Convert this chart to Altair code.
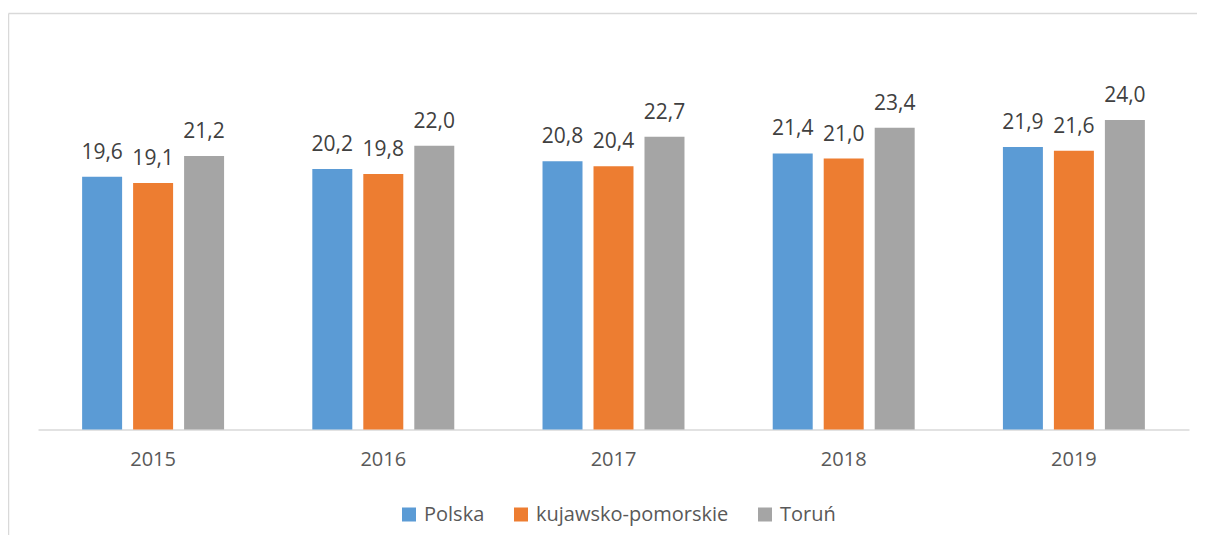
import altair as alt
import pandas as pd

years = ["2015", "2016", "2017", "2018", "2019"]
series = ["Polska", "kujawsko-pomorskie", "Toruń"]
polska = [19.6, 20.2, 20.8, 21.4, 21.9]
kujawsko = [19.1, 19.8, 20.4, 21.0, 21.6]
torun = [21.2, 22.0, 22.7, 23.4, 24.0]
colors = ["#5B9BD5", "#ED7D31", "#A5A5A5"]

rows = []
for name, vals in zip(series, [polska, kujawsko, torun]):
    for yr, v in zip(years, vals):
        rows.append({"rok": yr, "seria": name, "wartosc": v,
                     "etykieta": f"{v:.1f}".replace(".", ",")})
df = pd.DataFrame(rows)

W, H = 1151, 387
FONT = "Open Sans"

x = alt.X("rok:N", sort=years, title=None,
          scale=alt.Scale(paddingInner=0.3833, paddingOuter=0.19167),
          axis=alt.Axis(labelAngle=0, ticks=False, tickSize=0, domainColor="#D9D9D9",
                        domainWidth=1.5, labelColor="#595959", labelFontSize=20,
                        labelFont=FONT, labelPadding=20, grid=False))
xo = alt.XOffset("seria:N", sort=series,
                 scale=alt.Scale(paddingInner=11 / 51, paddingOuter=0))
y = alt.Y("wartosc:Q", scale=alt.Scale(domain=[0, 30], nice=False, zero=True), axis=None)

bars = alt.Chart(df).mark_bar().encode(
    x=x, xOffset=xo, y=y,
    color=alt.Color("seria:N", sort=series,
                    scale=alt.Scale(domain=series, range=colors),
                    legend=alt.Legend(orient="none", legendX=361, legendY=462,
                                      direction="horizontal", columns=3, title=None,
                                      symbolType="square", symbolSize=196,
                                      symbolStrokeWidth=0, labelFontSize=20,
                                      labelFont=FONT, labelColor="#595959",
                                      labelLimit=400,
                                      columnPadding=26, labelOffset=5)),
)

labels = alt.Chart(df).mark_text(dy=-18, baseline="alphabetic", fontSize=21, font=FONT,
                                 color="#404040").encode(
    x=x, xOffset=xo, y=y, text="etykieta:N")

frame = alt.Data(values=[{}])
frame_top = alt.Chart(frame).mark_rule(color="#D9D9D9", strokeWidth=1.5).encode(
    x=alt.value(-29.5), x2=alt.value(1170), y=alt.value(-29))
frame_left = alt.Chart(frame).mark_rule(color="#D9D9D9", strokeWidth=1.5).encode(
    x=alt.value(-29.5), y=alt.value(-29), y2=alt.value(520))

chart = alt.layer(frame_top, frame_left, bars, labels).properties(
    width=W, height=H,
    autosize=alt.AutoSizeParams(type="none"),
    padding={"left": 30, "top": 34.5, "right": 8, "bottom": 105},
).configure_view(stroke=None)

chart.save("out.html", embed_options={"renderer": "svg", "actions": False})
